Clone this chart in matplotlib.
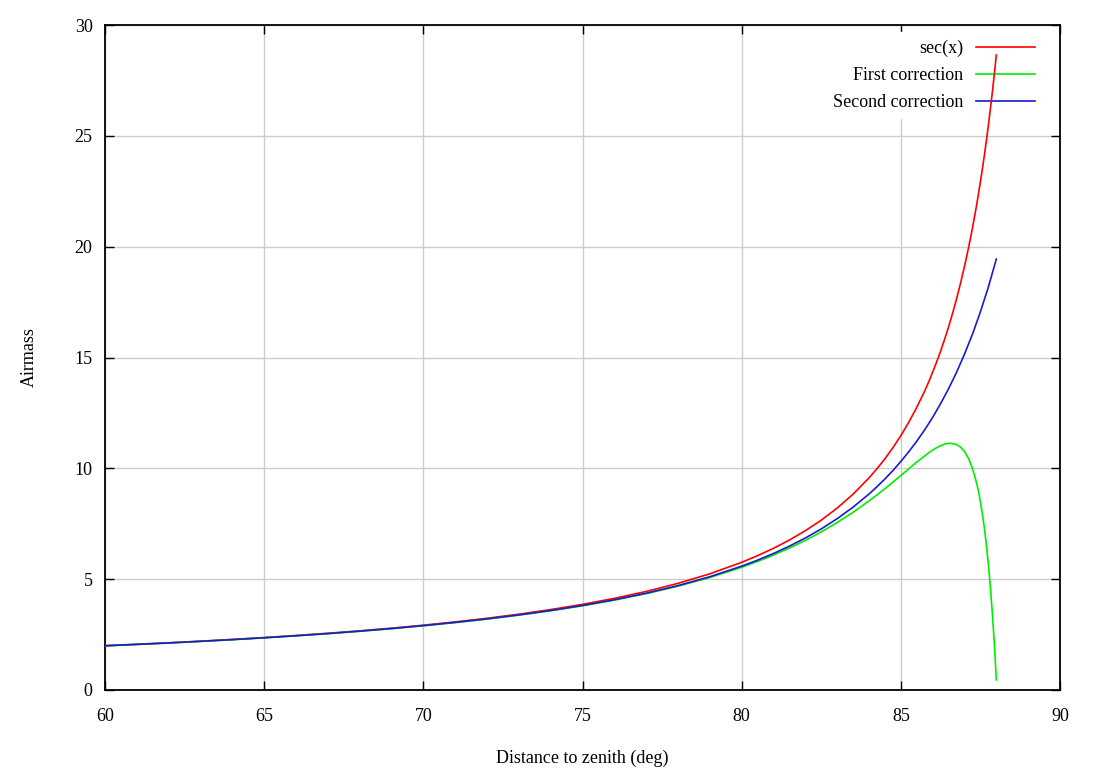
import matplotlib
matplotlib.use("Agg")
import matplotlib.pyplot as plt

# Zenith distances (deg) and airmass values
x_sec = [60, 61, 62, 63, 64, 65, 66, 67, 68, 69, 70, 71, 72, 73, 74, 75, 76, 77, 78, 79,
         80, 80.5, 81, 81.5, 82, 82.5, 83, 83.5, 84, 84.25, 84.5, 84.75, 85, 85.25, 85.5,
         85.75, 85.875, 86, 86.125, 86.25, 86.375, 86.5, 86.625, 86.75, 86.875, 87,
         87.125, 87.25, 87.375, 87.4375, 87.5, 87.5625, 87.625, 87.6875, 87.75, 87.8125,
         87.875, 87.9375, 88]
y_sec = [2.000, 2.063, 2.130, 2.203, 2.281, 2.366, 2.459, 2.559, 2.669, 2.790, 2.924,
         3.072, 3.236, 3.420, 3.628, 3.864, 4.134, 4.445, 4.810, 5.241,
         5.759, 6.059, 6.392, 6.765, 7.185, 7.661, 8.206, 8.834, 9.567, 9.981, 10.43,
         10.93, 11.47, 12.08, 12.75, 13.49, 13.90, 14.34, 14.80, 15.29, 15.82, 16.38,
         16.99, 17.64, 18.35, 19.11, 19.94, 20.84, 21.83, 22.37, 22.93, 23.51, 24.13,
         24.78, 25.47, 26.20, 26.97, 27.79, 28.65]

x_first = x_sec
y_first = [1.993, 2.055, 2.121, 2.193, 2.270, 2.353, 2.444, 2.542, 2.649, 2.767, 2.898,
           3.041, 3.199, 3.376, 3.575, 3.799, 4.054, 4.345, 4.682, 5.075,
           5.537, 5.799, 6.086, 6.402, 6.749, 7.131, 7.553, 8.017, 8.528, 8.800, 9.081,
           9.376, 9.675, 9.980, 10.28, 10.56, 10.70, 10.82, 10.93, 11.02, 11.09, 11.13,
           11.12, 11.07, 10.96, 10.76, 10.45, 10.00, 9.37, 8.97, 8.49, 7.94, 7.30,
           6.55, 5.67, 4.65, 3.46, 2.08, 0.455]

x_second = [60, 61, 62, 63, 64, 65, 66, 67, 68, 69, 70, 71, 72, 73, 74, 75, 76, 77, 78, 79,
            80, 80.5, 81, 81.5, 82, 82.5, 83, 83.5, 84, 84.25, 84.5, 84.75, 85, 85.25,
            85.5, 85.75, 86, 86.25, 86.5, 86.75, 87, 87.25, 87.5, 87.75, 88]
y_second = [1.994, 2.058, 2.123, 2.196, 2.272, 2.356, 2.447, 2.546, 2.654, 2.772, 2.903,
            3.050, 3.207, 3.388, 3.586, 3.813, 4.071, 4.367, 4.709, 5.110,
            5.586, 5.858, 6.158, 6.489, 6.857, 7.267, 7.728, 8.249, 8.841, 9.169, 9.520,
            9.899, 10.31, 10.75, 11.22, 11.74, 12.30, 12.92, 13.59, 14.33, 15.15, 16.05,
            17.06, 18.18, 19.44]

series_labels = ["sec(x)", "First correction", "Second correction"]
x_ticks = [60, 65, 70, 75, 80, 85, 90]
y_ticks = [0, 5, 10, 15, 20, 25, 30]

plt.rcParams['font.family'] = ['Liberation Serif', 'DejaVu Serif']

fig = plt.figure(figsize=(11, 7.73), dpi=100)
W, H = 1100, 773
ax = fig.add_axes([105 / W, 1 - 690 / H, (1060 - 105) / W, (690 - 25) / H])

kw = dict(lw=1.2, zorder=3, solid_joinstyle='round')
ax.plot(x_sec, y_sec, color='#ff0000', label=series_labels[0], **kw)
ax.plot(x_first, y_first, color='#00ee00', label=series_labels[1], **kw)
ax.plot(x_second, y_second, color='#1a1ad0', label=series_labels[2], **kw)

ax.set_xlim(60, 90)
ax.set_ylim(0, 30)
ax.set_xticks(x_ticks)
ax.set_yticks(y_ticks)
ax.set_axisbelow(True)
ax.grid(True, color='#cccccc', lw=1.0)

ax.tick_params(direction='in', length=6.5, width=1.0, top=True, right=True,
               labelsize=13, color='black')
ax.tick_params(axis='x', pad=13)
ax.tick_params(axis='y', pad=9)
for s in ax.spines.values():
    s.set_linewidth(1.3)

ax.set_xlabel("Distance to zenith (deg)", fontsize=13, labelpad=18)
ax.set_ylabel("Airmass", fontsize=13)
ax.yaxis.set_label_coords(-0.070, 0.5)

leg = ax.legend(loc='upper right', frameon=True, fontsize=13, markerfirst=False,
                handlelength=3.27, handletextpad=0.67, labelspacing=0.56,
                borderaxespad=0.3, fancybox=False, framealpha=1.0,
                edgecolor='white', bbox_to_anchor=(0.9866, 0.997))
leg.set_zorder(2)
for t in leg.get_texts():
    t.set_ha('right')
leg._legend_box.align = "right"

fig.savefig("out.png", dpi=100)
